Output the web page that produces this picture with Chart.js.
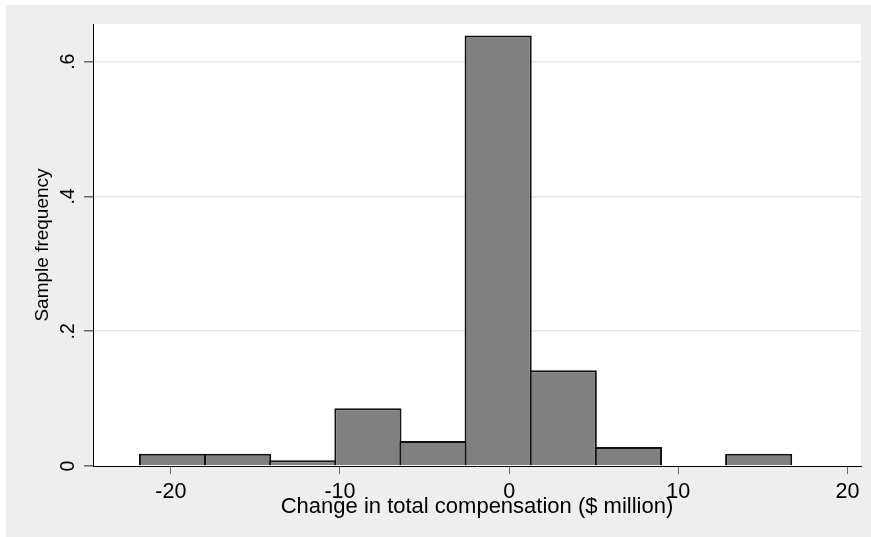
<!DOCTYPE html>
<html>
<head>
<meta charset="utf-8">
<script src="https://cdn.jsdelivr.net/npm/chart.js@4.4.1/dist/chart.umd.min.js"></script>
<style>
  body { margin: 0; background: #ffffff; }
  #histChart { position: absolute; left: 6px; top: 5px; background: #eeeeee; }
</style>
</head>
<body>
<canvas id="histChart" width="865" height="532"></canvas>
<script>
// Bin centres ($ million) and sample frequency per bin
const binCenters = [-19.9, -16.05, -12.2, -8.35, -4.5, -0.65, 3.2, 7.05, 10.9, 14.75];
const frequencies = [0.0183, 0.0183, 0.0085, 0.0857, 0.037, 0.639, 0.142, 0.0282, null, 0.0183];

// Axis ticks
const xTicks = [-20, -10, 0, 10, 20];
const yTicks = [0, 0.2, 0.4, 0.6];
const yTickLabels = ['0', '.2', '.4', '.6'];

const fontFamily = '"Liberation Sans", Arial, sans-serif';

// Paint the plot region white, the rest stays light grey
const plotBackground = {
    id: 'plotBackground',
    beforeDraw(chart) {
        const { ctx, chartArea } = chart;
        ctx.save();
        ctx.fillStyle = '#ffffff';
        ctx.fillRect(chartArea.left, chartArea.top, chartArea.right - chartArea.left, chartArea.bottom - chartArea.top);
        ctx.restore();
    }
};

document.addEventListener('DOMContentLoaded', () => {
    const ctx = document.getElementById('histChart').getContext('2d');
    new Chart(ctx, {
        type: 'bar',
        data: {
            datasets: [{
                label: 'Sample frequency',
                data: binCenters.map((x, i) => ({ x: x, y: frequencies[i] })),
                backgroundColor: '#808080',
                borderColor: '#111111',
                borderWidth: 2,
                barPercentage: 1.031,
                categoryPercentage: 1,
                inflateAmount: 0
            }]
        },
        options: {
            responsive: false,
            animation: false,
            layout: { padding: { top: 19, right: 10, left: 0, bottom: 0 } },
            plugins: {
                legend: { display: false },
                tooltip: { enabled: false }
            },
            scales: {
                x: {
                    type: 'linear',
                    min: -24.6,
                    max: 20.8,
                    offset: false,
                    z: 1,
                    afterBuildTicks: (scale) => { scale.ticks = xTicks.map(v => ({ value: v })); },
                    afterFit: (scale) => { scale.height = 71; },
                    grid: {
                        drawOnChartArea: false,
                        drawTicks: true,
                        tickLength: 8,
                        tickColor: '#666666',
                        offset: false
                    },
                    border: { color: '#000000', width: 1 },
                    ticks: {
                        padding: 5,
                        color: '#000000',
                        maxRotation: 0,
                        font: { family: fontFamily, size: 21.5 },
                        callback: (v) => String(v)
                    },
                    title: {
                        display: true,
                        text: 'Change in total compensation ($ million)',
                        color: '#000000',
                        font: { family: fontFamily, size: 22 },
                        padding: { top: 0, bottom: 17 }
                    }
                },
                y: {
                    min: 0,
                    max: 0.656,
                    afterBuildTicks: (scale) => { scale.ticks = yTicks.map(v => ({ value: v })); },
                    afterFit: (scale) => { scale.width = 87; },
                    grid: {
                        color: (c) => (c.tick && c.tick.value === 0) ? 'rgba(0,0,0,0)' : '#e8e8e8',
                        lineWidth: 1.5,
                        tickLength: 9,
                        tickColor: '#666666'
                    },
                    border: { color: '#000000', width: 1 },
                    ticks: {
                        padding: 7,
                        color: '#000000',
                        minRotation: 90,
                        maxRotation: 90,
                        crossAlign: 'center',
                        font: { family: fontFamily, size: 19.5 },
                        callback: (v) => yTickLabels[yTicks.indexOf(v)]
                    },
                    title: {
                        display: true,
                        text: 'Sample frequency',
                        color: '#000000',
                        font: { family: fontFamily, size: 19 },
                        padding: { top: 25, bottom: 0 }
                    }
                }
            }
        },
        plugins: [plotBackground]
    });
});
</script>
</body>
</html>
